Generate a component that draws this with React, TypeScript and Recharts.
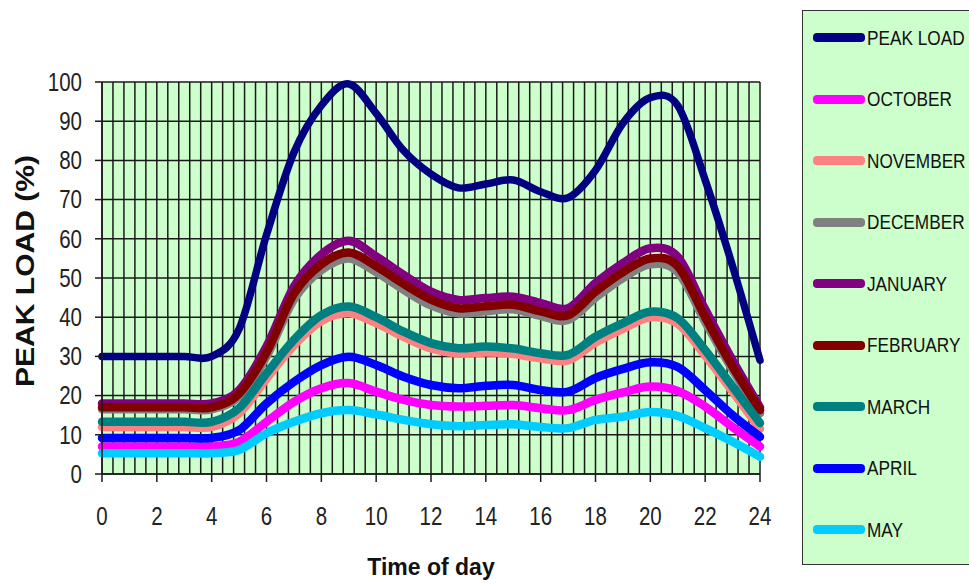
import React from "react";
import { LineChart, Line, XAxis, YAxis, CartesianGrid } from "recharts";

const hours = [0, 1, 2, 3, 4, 5, 6, 7, 8, 9, 10, 11, 12, 13, 14, 15, 16, 17, 18, 19, 20, 21, 22, 23, 24];
const peakLoad = [30, 30, 30, 30, 30, 37, 61, 82, 94, 99.5, 92, 82.5, 76.5, 73, 74, 75, 72, 70.5, 77.5, 89.5, 96, 94, 75, 53, 29];
const october = [7, 7, 7, 7, 7, 8.2, 13.3, 18.4, 21.9, 23.2, 21, 18.9, 17.6, 17.2, 17.4, 17.6, 16.8, 16.3, 18.9, 20.8, 22.3, 21.2, 17.2, 12, 7];
const november = [12, 12, 12, 12, 12, 15.5, 24.3, 32.8, 39, 41, 38.5, 35, 32, 30.7, 31, 30.6, 29.5, 29, 33.5, 37, 40, 38.3, 30.2, 21, 11.5];
const december = [16.5, 16.5, 16.5, 16.5, 16.5, 19.8, 30, 44.5, 52, 55, 51.5, 47, 43, 41, 41.5, 42, 40.3, 39.3, 45, 50, 53.5, 51.5, 38.8, 26.5, 15.5];
const january = [18, 18, 18, 18, 18, 21.4, 32.5, 47.8, 56, 59.5, 55.5, 50.8, 46.5, 44.4, 44.9, 45.2, 43.6, 42.3, 48.7, 53.8, 57.6, 55.4, 42, 29, 17];
const february = [17, 17, 17, 17, 17, 20.5, 31, 46, 53.5, 56.5, 53, 48.5, 44.5, 42.3, 42.8, 43.2, 41.5, 40.5, 46.5, 51.5, 55, 53, 40, 27.4, 16.3];
const march = [13.3, 13.3, 13.3, 13.3, 13.3, 16.8, 25.7, 34.2, 40.5, 42.7, 40, 36.3, 33.4, 32.1, 32.5, 32, 30.8, 30.4, 35, 38.5, 41.4, 39.7, 31.6, 22.3, 13];
const april = [9.2, 9.2, 9.2, 9.2, 9.2, 11.2, 18, 23.5, 27.8, 29.9, 27.8, 24.8, 22.7, 21.9, 22.5, 22.7, 21.4, 21, 24.5, 26.8, 28.5, 27.3, 21.4, 15, 9.5];
const may = [5.3, 5.3, 5.3, 5.3, 5.3, 6.1, 10.4, 13.3, 15.5, 16.3, 15.2, 13.8, 12.7, 12.2, 12.5, 12.7, 12, 11.7, 13.8, 14.6, 15.8, 14.8, 11.7, 8.2, 4.4];

const xTicks = [0, 2, 4, 6, 8, 10, 12, 14, 16, 18, 20, 22, 24];
const yTicks = [0, 10, 20, 30, 40, 50, 60, 70, 80, 90, 100];
const gridStep = 0.4;
const gridHours = Array.from({ length: Math.round(24 / gridStep) + 1 }, (_, i) => i * gridStep);

const series = [
  { key: "peak", name: "PEAK LOAD", values: peakLoad, color: "#000080" },
  { key: "oct", name: "OCTOBER", values: october, color: "#FF00FF" },
  { key: "nov", name: "NOVEMBER", values: november, color: "#FF8080" },
  { key: "dec", name: "DECEMBER", values: december, color: "#808080" },
  { key: "jan", name: "JANUARY", values: january, color: "#800080" },
  { key: "feb", name: "FEBRUARY", values: february, color: "#800000" },
  { key: "mar", name: "MARCH", values: march, color: "#008080" },
  { key: "apr", name: "APRIL", values: april, color: "#0000FF" },
  { key: "may", name: "MAY", values: may, color: "#00CCFF" },
];

const data = hours.map((h, i) => {
  const row: any = { hour: h };
  series.forEach((s) => (row[s.key] = s.values[i]));
  return row;
});

// Excel-like smoothed line (Catmull-Rom style), as a d3-compatible curve factory
const smoothCurve: any = (context: any) => {
  let pts: number[][] = [];
  return {
    areaStart() {},
    areaEnd() {},
    lineStart() {
      pts = [];
    },
    point(x: number, y: number) {
      pts.push([+x, +y]);
    },
    lineEnd() {
      const n = pts.length;
      if (!n) return;
      context.moveTo(pts[0][0], pts[0][1]);
      for (let i = 0; i < n - 1; i++) {
        const pm = pts[Math.max(i - 1, 0)];
        const p0 = pts[i];
        const p1 = pts[i + 1];
        const p2 = pts[Math.min(i + 2, n - 1)];
        const c1x = p0[0] + (p1[0] - pm[0]) / 6;
        const c1y = p0[1] + (p1[1] - pm[1]) / 6;
        const c2x = p1[0] - (p2[0] - p0[0]) / 6;
        const c2y = p1[1] - (p2[1] - p0[1]) / 6;
        context.bezierCurveTo(c1x, c1y, c2x, c2y, p1[0], p1[1]);
      }
    },
  };
};

const tickFont = "'Liberation Sans', Arial, sans-serif";
const bold = "'Liberation Sans', Arial, sans-serif";

const XTick = (props: any) => {
  const { x, y, payload } = props;
  return (
    <text
      transform={`translate(${x} ${y}) scale(0.82 1)`}
      x={0}
      y={0}
      dy="0.71em"
      textAnchor="middle"
      fill="#222"
      fontSize={25}
      fontFamily={tickFont}
    >
      {payload.value}
    </text>
  );
};

const YTick = (props: any) => {
  const { x, y, payload } = props;
  return (
    <text
      transform={`translate(${x} ${y}) scale(0.82 1)`}
      x={0}
      y={0}
      dy="0.355em"
      textAnchor="end"
      fill="#222"
      fontSize={25}
      fontFamily={tickFont}
    >
      {payload.value}
    </text>
  );
};

export default function App() {
  return (
    <div style={{ position: "absolute", left: 0, top: 0, width: 969, height: 584, overflow: "hidden", background: "#fff" }}>
      <LineChart
        width={969}
        height={584}
        data={data}
        margin={{ top: 82, right: 209, bottom: 70, left: 42 }}
      >
        <CartesianGrid
          fill="#CCFFCC"
          stroke="#1a1a1a"
          strokeWidth={1.5}
          strokeOpacity={1}
          horizontalValues={yTicks}
          verticalCoordinatesGenerator={(props: any) => {
            const { xAxis, offset } = props;
            if (xAxis && typeof xAxis.scale === "function") {
              return gridHours.map((h) => xAxis.scale(h));
            }
            return gridHours.map((h) => offset.left + (h / 24) * offset.width);
          }}
        />
        <XAxis
          dataKey="hour"
          type="number"
          domain={[0, 24]}
          ticks={xTicks}
          interval={0}
          height={40}
          tickSize={8}
          tickMargin={25}
          axisLine={{ stroke: "#1a1a1a", strokeWidth: 1.5 }}
          tickLine={{ stroke: "#1a1a1a", strokeWidth: 1.5 }}
          tick={<XTick />}
        />
        <YAxis
          type="number"
          domain={[0, 100]}
          ticks={yTicks}
          interval={0}
          width={60}
          tickSize={7}
          tickMargin={13}
          axisLine={{ stroke: "#1a1a1a", strokeWidth: 1.5 }}
          tickLine={{ stroke: "#1a1a1a", strokeWidth: 1.5 }}
          tick={<YTick />}
        />
        {series.map((s) => (
          <Line
            key={s.key}
            dataKey={s.key}
            name={s.name}
            type={smoothCurve}
            stroke={s.color}
            strokeWidth={s.key === "peak" ? 7.5 : 8.5}
            dot={false}
            activeDot={false}
            isAnimationActive={false}
            strokeLinecap="round"
            strokeLinejoin="round"
          />
        ))}
      </LineChart>

      <svg width={969} height={584} style={{ position: "absolute", left: 0, top: 0, pointerEvents: "none" }}>
        <text
          x={0}
          y={0}
          transform="translate(34 271) rotate(-90)"
          textAnchor="middle"
          fontFamily={bold}
          fontWeight="bold"
          fontSize={25}
          fill="#111"
          textLength={232}
          lengthAdjust="spacingAndGlyphs"
        >
          PEAK LOAD (%)
        </text>
        <text x={431} y={575} textAnchor="middle" fontFamily={bold} fontWeight="bold" fontSize={23} fill="#111">
          Time of day
        </text>
      </svg>

      <div
        style={{
          position: "absolute",
          left: 802,
          top: 10,
          width: 200,
          height: 555,
          boxSizing: "border-box",
          border: "1.5px solid #333",
          background: "#CCFFCC",
        }}
      >
        {series.map((s, i) => (
          <div
            key={s.key}
            style={{
              position: "absolute",
              left: 10,
              top: 26.7 + i * 61.5 - 14,
              height: 28,
              display: "flex",
              alignItems: "center",
              whiteSpace: "nowrap",
            }}
          >
            <div style={{ width: 52, height: 9, borderRadius: 4, background: s.color }} />
            <span
              style={{
                marginLeft: 2,
                fontFamily: tickFont,
                fontSize: 21,
                color: "#111",
                display: "inline-block",
                transform: "scaleX(0.82)",
                transformOrigin: "left center",
              }}
            >
              {s.name}
            </span>
          </div>
        ))}
      </div>
    </div>
  );
}
